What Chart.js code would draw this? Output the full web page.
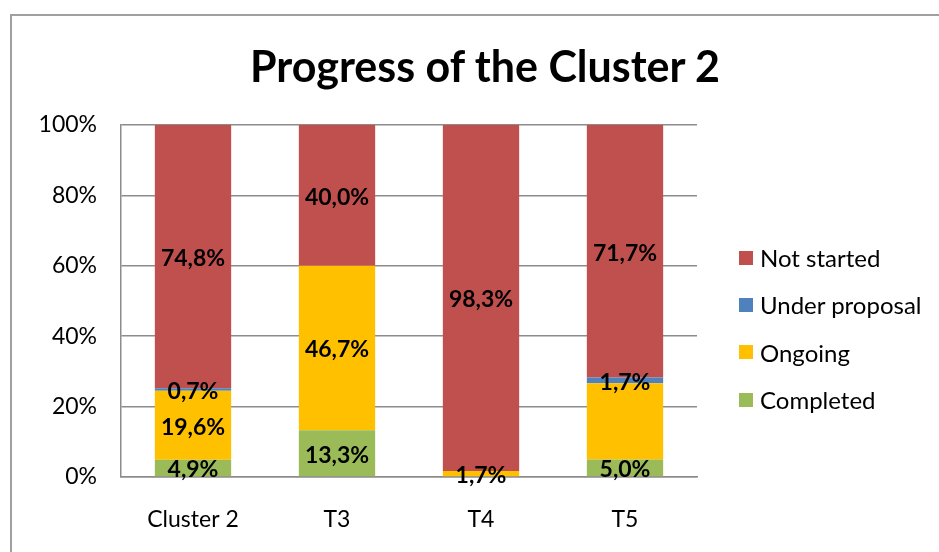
<!DOCTYPE html>
<html>
<head>
<meta charset="utf-8">
<title>Progress of the Cluster 2</title>
<script src="https://cdn.jsdelivr.net/npm/chart.js@4.4.1/dist/chart.umd.min.js"></script>
<style>
    html, body { margin: 0; padding: 0; background: #fff; overflow: hidden; }
    #wrap { position: relative; width: 939px; height: 552px; overflow: hidden; font-family: Lato, sans-serif; }
    #frame { position: absolute; left: 10px; top: 14px; width: 1000px; height: 600px; border: 2px solid #a0a0a0; box-sizing: border-box; }
    #chart { position: absolute; left: 0; top: 0; }
    #title { position: absolute; left: 0; width: 970px; top: 40px; text-align: center; font-size: 43px; font-weight: bold; color: #000; }
    #legend { position: absolute; left: 739px; top: 234px; font-size: 24px; color: #000; }
    .legend-item { display: flex; align-items: center; height: 47.3px; }
    .swatch { width: 14px; height: 14px; margin-right: 7px; flex: none; }
</style>
</head>
<body>
<div id="wrap">
    <div id="frame"></div>
    <canvas id="chart" width="939" height="552"></canvas>
    <div id="title">Progress of the Cluster 2</div>
    <div id="legend"></div>
</div>
<script>
// --- DATA ---
const categories = ['Cluster 2', 'T3', 'T4', 'T5'];
const completed = [4.9, 13.3, 0, 5.0];
const ongoing = [19.6, 46.7, 1.7, 21.6];
const underProposal = [0.7, 0, 0, 1.7];
const notStarted = [74.8, 40.0, 98.3, 71.7];
const yTicks = [0, 20, 40, 60, 80, 100];
// labels that are not printed on the original chart: [series, category]
const hiddenLabels = [['Ongoing', 'T5']];

const COLORS = {
    'Completed': '#9BBB59',
    'Ongoing': '#FFC000',
    'Under proposal': '#4F81BD',
    'Not started': '#C0504D'
};

const series = [
    { label: 'Completed', data: completed },
    { label: 'Ongoing', data: ongoing },
    { label: 'Under proposal', data: underProposal },
    { label: 'Not started', data: notStarted }
];

const GRID = '#8c8c8c';
const FONT = 'Lato, sans-serif';

// prints the percentage in the middle of every segment
const barLabels = {
    id: 'barLabels',
    afterDatasetsDraw(chart) {
        const ctx = chart.ctx;
        ctx.save();
        ctx.font = 'bold 23px ' + FONT;
        ctx.fillStyle = '#000';
        ctx.textAlign = 'center';
        ctx.textBaseline = 'middle';
        chart.data.datasets.forEach((ds, i) => {
            chart.getDatasetMeta(i).data.forEach((bar, j) => {
                const v = ds.data[j];
                if (!v) return;
                if (hiddenLabels.some(h => h[0] === ds.label && h[1] === categories[j])) return;
                const y = (bar.y + bar.base) / 2 + 2;
                ctx.fillText(v.toFixed(1).replace('.', ',') + '%', bar.x, y);
            });
        });
        ctx.restore();
    }
};

const chart = new Chart(document.getElementById('chart').getContext('2d'), {
    type: 'bar',
    data: {
        labels: categories,
        datasets: series.map(s => ({
            label: s.label,
            data: s.data,
            backgroundColor: COLORS[s.label],
            borderWidth: 0,
            barPercentage: 0.53,
            categoryPercentage: 1
        }))
    },
    options: {
        responsive: false,
        animation: false,
        layout: { padding: { top: 125, right: 242, bottom: 0, left: 0 } },
        plugins: {
            legend: { display: false },
            title: { display: false },
            tooltip: { enabled: false }
        },
        scales: {
            x: {
                stacked: true,
                grid: { display: false, drawTicks: false },
                border: { display: true, color: GRID, width: 1.5 },
                ticks: { color: '#000', padding: 29, font: { family: FONT, size: 23 } },
                afterFit: s => { s.height = 75; }
            },
            y: {
                stacked: true,
                min: 0,
                max: 100,
                afterBuildTicks: s => { s.ticks = yTicks.map(v => ({ value: v })); },
                grid: { color: GRID, lineWidth: 1.5, drawTicks: false },
                border: { display: true, color: GRID, width: 1.5 },
                ticks: {
                    color: '#000',
                    padding: 24,
                    font: { family: FONT, size: 23 },
                    callback: v => v + '%'
                },
                afterFit: s => { s.width = 121; }
            }
        }
    },
    plugins: [barLabels]
});

// --- LEGEND (top series first, like the original) ---
const legendEl = document.getElementById('legend');
[...series].reverse().forEach(s => {
    const row = document.createElement('div');
    row.className = 'legend-item';
    const box = document.createElement('span');
    box.className = 'swatch';
    box.style.background = COLORS[s.label];
    row.appendChild(box);
    row.appendChild(document.createTextNode(s.label));
    legendEl.appendChild(row);
});
</script>
</body>
</html>
